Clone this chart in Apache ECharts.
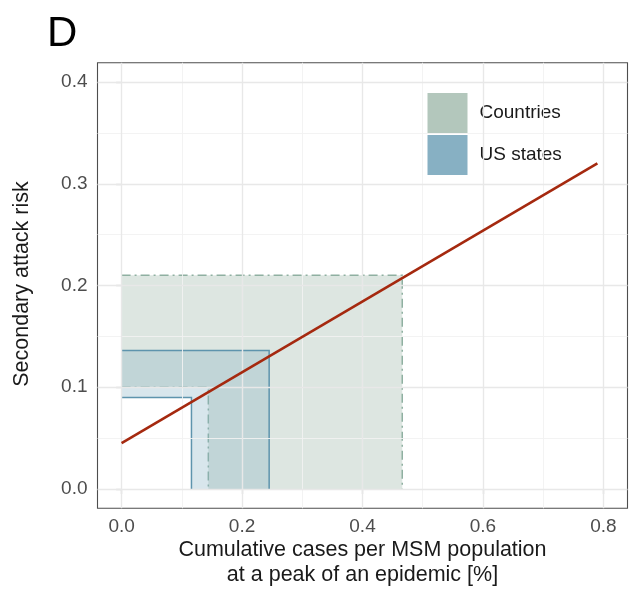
<!DOCTYPE html>
<html>
<head>
<meta charset="utf-8">
<script src="https://cdn.jsdelivr.net/npm/echarts@6/dist/echarts.min.js"></script>
<style>
html,body{margin:0;padding:0;background:#fff;}
#c{width:629px;height:592px;}
</style>
</head>
<body>
<div id="c"></div>
<script>
// ---- data ----
const seriesNames = ['Countries', 'US states'];
// outer corner (x, y) and inner corner (x, y) of each range region
const countriesOuter = [0.466, 0.210];
const countriesInner = [0.144, 0.100];
const usOuter = [0.245, 0.136];
const usInner = [0.116, 0.090];
// fitted line
const lineX = [0.0, 0.79];
const lineY = [0.045, 0.32];
// axes
const xTicks = [0.0, 0.2, 0.4, 0.6, 0.8];
const xMinor = [0.1, 0.3, 0.5, 0.7];
const yTicks = [0.0, 0.1, 0.2, 0.3, 0.4];
const yMinor = [0.05, 0.15, 0.25, 0.35];

const FONT = 'Liberation Sans, Arial, Helvetica, sans-serif';
const chart = echarts.init(document.getElementById('c'), null, {renderer: 'canvas'});

function lshape(outer, inner) {
  return [[0, outer[1]], [outer[0], outer[1]], [outer[0], 0], [inner[0], 0], [inner[0], inner[1]], [0, inner[1]]];
}

function makeRender(outer, inner, fill, stroke, dash) {
  return function (params, api) {
    const pts = lshape(outer, inner).map(p => api.coord(p));
    const outerLine = [[0, outer[1]], [outer[0], outer[1]], [outer[0], 0]].map(p => api.coord(p));
    const innerLine = [[0, inner[1]], [inner[0], inner[1]], [inner[0], 0]].map(p => api.coord(p));
    const ls = {fill: null, stroke: stroke, lineWidth: 1.5, lineDash: dash};
    return {
      type: 'group',
      children: [
        {type: 'polygon', shape: {points: pts}, style: {fill: fill, stroke: null}},
        {type: 'polyline', shape: {points: outerLine}, style: ls},
        {type: 'polyline', shape: {points: innerLine}, style: ls}
      ]
    };
  };
}

const gridMajor = {color: '#e8e8e8', width: 1.4, type: 'solid'};
const gridMinor = {color: '#f2f2f2', width: 0.9, type: 'solid'};

function vlines(vals, style) {
  return vals.map(v => ({xAxis: v, lineStyle: style}));
}
function hlines(vals, style) {
  return vals.map(v => ({yAxis: v, lineStyle: style}));
}

const option = {
  animation: false,
  backgroundColor: '#ffffff',
  textStyle: {fontFamily: FONT},
  grid: {left: 97.5, right: 1.5, top: 62.7, bottom: 83.7, show: true, borderColor: '#4d4d4d', borderWidth: 1.1, backgroundColor: 'transparent'},
  xAxis: {
    type: 'value', min: -0.04, max: 0.84,
    axisLine: {show: false},
    splitLine: {show: false},
    axisTick: {show: true, length: 5.5, customValues: xTicks, lineStyle: {color: '#333', width: 1.1}},
    axisLabel: {customValues: xTicks, formatter: v => v.toFixed(1), color: '#4d4d4d', fontSize: 19, fontFamily: FONT, margin: 9}
  },
  yAxis: {
    type: 'value', min: -0.019, max: 0.419,
    axisLine: {show: false},
    splitLine: {show: false},
    axisTick: {show: true, length: 5.5, customValues: yTicks, lineStyle: {color: '#333', width: 1.1}},
    axisLabel: {customValues: yTicks, formatter: v => v.toFixed(1), color: '#4d4d4d', fontSize: 19, fontFamily: FONT, margin: 10}
  },
  legend: {
    orient: 'vertical', left: 427.5, top: 93, itemWidth: 40, itemHeight: 40, itemGap: 2,
    icon: 'rect',
    textStyle: {fontSize: 19, color: '#1a1a1a', fontFamily: FONT, padding: [0, 0, 0, 7]},
    padding: 0,
    data: [
      {name: seriesNames[0], itemStyle: {color: '#b3c7bc', borderWidth: 0}},
      {name: seriesNames[1], itemStyle: {color: '#87b0c3', borderWidth: 0}}
    ]
  },
  graphic: [
    {type: 'text', x: 47, y: 34, style: {text: 'D', fontSize: 42, fontFamily: FONT, fill: '#000', align: 'left', verticalAlign: 'middle'}},
    {type: 'text', x: 22, y: 284, rotation: Math.PI / 2, style: {text: 'Secondary attack risk', fontSize: 21.5, fontFamily: FONT, fill: '#1a1a1a', align: 'center', verticalAlign: 'middle'}},
    {type: 'text', x: 362.5, y: 550.5, style: {text: 'Cumulative cases per MSM population', fontSize: 21.5, fontFamily: FONT, fill: '#1a1a1a', align: 'center', verticalAlign: 'middle'}},
    {type: 'text', x: 362.5, y: 575.5, style: {text: 'at a peak of an epidemic [%]', fontSize: 21.5, fontFamily: FONT, fill: '#1a1a1a', align: 'center', verticalAlign: 'middle'}}
  ],
  series: [
    {
      type: 'line', name: 'grid', data: [], silent: true, z: 0,
      markLine: {
        silent: true, symbol: 'none', label: {show: false}, animation: false,
        data: [].concat(vlines(xMinor, gridMinor), hlines(yMinor, gridMinor), vlines(xTicks, gridMajor), hlines(yTicks, gridMajor))
      }
    },
    {
      type: 'custom', name: seriesNames[0], z: 2,
      itemStyle: {color: '#b3c7bc'},
      data: [[0, 0]],
      renderItem: makeRender(countriesOuter, countriesInner, 'rgba(179,199,188,0.45)', '#8fb0a1', [9, 4, 2, 4])
    },
    {
      type: 'custom', name: seriesNames[1], z: 3,
      itemStyle: {color: '#87b0c3'},
      data: [[0, 0]],
      renderItem: makeRender(usOuter, usInner, 'rgba(135,176,195,0.32)', '#5e94ad', null)
    },
    {
      type: 'line', name: 'fit', z: 5, symbol: 'none', silent: true,
      data: lineX.map((x, i) => [x, lineY[i]]),
      lineStyle: {color: '#a5290f', width: 2.6}
    }
  ]
};
chart.setOption(option);
</script>
</body>
</html>
